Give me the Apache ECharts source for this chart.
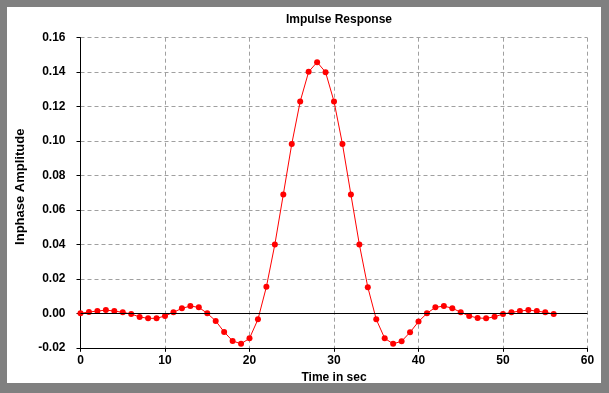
<!DOCTYPE html>
<html>
<head>
<meta charset="utf-8">
<script src="https://cdn.jsdelivr.net/npm/echarts@6/dist/echarts.min.js"></script>
<style>
html,body{margin:0;padding:0;background:#808080;}
#frame{position:absolute;left:7px;top:7px;width:594px;height:376px;background:#fff;}
#chart{position:absolute;left:-7px;top:-7px;width:609px;height:393px;}
</style>
</head>
<body>
<div id="frame"><div id="chart"></div></div>
<script>
const timeSec = [0,1,2,3,4,5,6,7,8,9,10,11,12,13,14,15,16,17,18,19,20,21,22,23,24,25,26,27,28,29,30,31,32,33,34,35,36,37,38,39,40,41,42,43,44,45,46,47,48,49,50,51,52,53,54,55,56];
const amplitude = [0.0000,0.0008,0.0013,0.0019,0.0013,0.0006,-0.0004,-0.0021,-0.0029,-0.0029,-0.0015,0.0006,0.0029,0.0042,0.0035,0.0000,-0.0044,-0.0108,-0.0160,-0.0177,-0.0145,-0.0035,0.0154,0.0400,0.0690,0.0983,0.1230,0.1402,0.1458,0.1400,0.1230,0.0983,0.0690,0.0400,0.0152,-0.0035,-0.0145,-0.0177,-0.0162,-0.0110,-0.0048,0.0000,0.0035,0.0042,0.0030,0.0006,-0.0015,-0.0027,-0.0029,-0.0020,-0.0004,0.0006,0.0013,0.0019,0.0013,0.0006,-0.0004];
const xTicks = [0,10,20,30,40,50,60];
const yTicks = [-0.02,0,0.02,0.04,0.06,0.08,0.10,0.12,0.14,0.16];

const chart = echarts.init(document.getElementById('chart'), null, {renderer:'canvas'});
const font = {fontFamily:'Liberation Sans, Arial, sans-serif', fontWeight:'bold', fontSize:12, color:'#000'};
chart.setOption({
  animation:false,
  backgroundColor:'transparent',
  title:{text:'Impulse Response', left:334, top:9, textAlign:'center',
    textStyle:Object.assign({}, font, {fontSize:12})},
  grid:{left:80.5, right:21.5, top:37.7, bottom:45.2, containLabel:false},
  xAxis:{type:'value', min:xTicks[0], max:xTicks[xTicks.length-1], interval:10,
    name:'Time in sec', nameLocation:'middle', nameGap:23,
    nameTextStyle:Object.assign({}, font),
    axisLine:{show:true, onZero:false, lineStyle:{color:'#000', width:1}},
    axisTick:{show:true, length:4, inside:false, lineStyle:{color:'#000'}},
    axisLabel:Object.assign({margin:7}, font),
    splitLine:{show:true, lineStyle:{color:'#a0a0a0', type:[4,3], width:1}}},
  yAxis:{type:'value', min:yTicks[0], max:yTicks[yTicks.length-1], interval:0.02,
    name:'Inphase Amplitude', nameLocation:'middle', nameGap:52, nameRotate:90,
    nameTextStyle:Object.assign({padding:[0,0,0,12]}, font, {fontSize:13}),
    axisLine:{show:true, onZero:false, lineStyle:{color:'#000', width:1}},
    axisTick:{show:true, length:4, inside:false, lineStyle:{color:'#000'}},
    axisLabel:Object.assign({margin:15, formatter:v=>(Math.abs(v)<1e-9?0:v).toFixed(2)}, font),
    splitLine:{show:true, lineStyle:{color:'#a0a0a0', type:[4,3], width:1}}},
  series:[{
    type:'line',
    data:timeSec.map((t,i)=>[t, amplitude[i]]),
    lineStyle:{color:'#ff0000', width:1},
    itemStyle:{color:'#ff0000'},
    symbol:'circle', symbolSize:6, showSymbol:true,
    markLine:{silent:true, symbol:'none', label:{show:false},
      lineStyle:{color:'#000', type:'solid', width:1},
      data:[{yAxis:0}]},
    z:3
  }]
});
</script>
</body>
</html>
